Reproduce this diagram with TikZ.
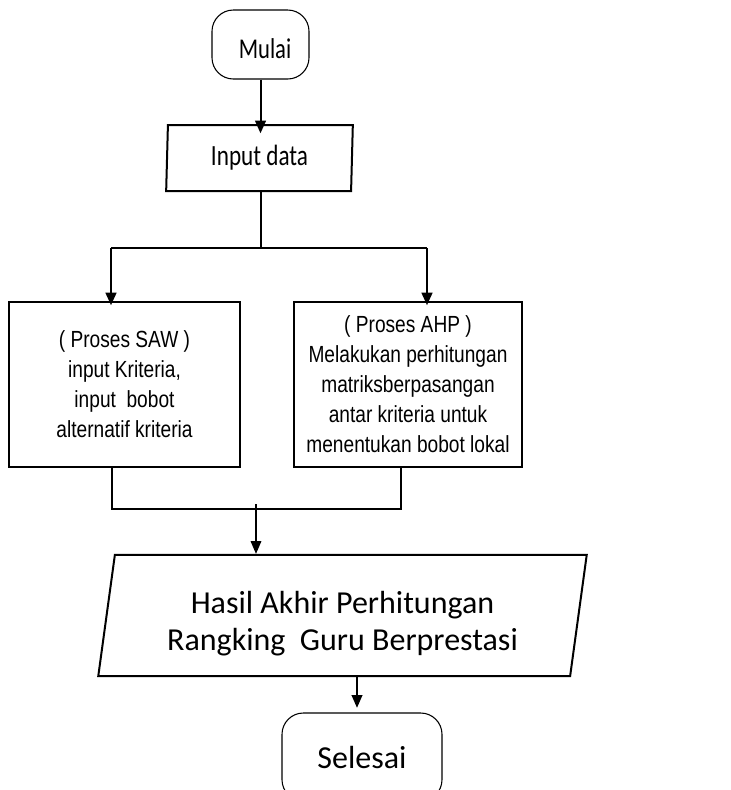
\documentclass[tikz,border=0pt]{standalone}
\usepackage{fontspec}
\setmainfont{Carlito}
\newfontfamily\narrowfont[FakeStretch=0.82]{Liberation Sans}
\newfontfamily\condfont[FakeStretch=0.79]{Carlito}
\usetikzlibrary{shapes.geometric, arrows.meta}

\begin{document}
\begin{tikzpicture}[x=0.75pt, y=-0.75pt, font=\fontsize{24}{27.75}\selectfont]

\tikzstyle{startstop} = [rectangle, rounded corners=16pt, minimum width=72.75pt, minimum height=51.75pt, text centered, draw=black, line width=0.8pt]
\tikzstyle{io} = [trapezium, trapezium left angle=86, trapezium right angle=94, trapezium stretches body, minimum width=140pt, minimum height=49.5pt, align=center, draw=black, line width=1.5pt, inner sep=0pt]
\tikzstyle{process} = [rectangle, minimum width=173pt, minimum height=124pt, align=center, draw=black, line width=1.8pt, font=\narrowfont\fontsize{17.5}{22.5}\selectfont]
\tikzstyle{arrow} = [line width=1.5pt, -{Triangle[length=9.5pt, width=8pt]}]
\tikzstyle{line} = [line width=1.2pt]

\useasboundingbox (0,0) rectangle (731,790);

\node (mulai) [startstop, font=\condfont\fontsize{21.5}{27}\selectfont] at (260.5,44.5) {\hspace*{6.75pt}\raisebox{-3pt}[\height][\depth]{Mulai}};
\node (input) [io, font=\condfont\fontsize{22}{27}\selectfont] at (259.5,158) {Input data};
\node (saw) [process] at (124.5,384.5) {( Proses SAW )\\input Kriteria,\\input\ \ bobot\\alternatif kriteria};
\node (ahp) [process, minimum width=171pt] at (408,384.5) {( Proses AHP )\\Melakukan perhitungan\\matriksberpasangan\\antar kriteria untuk\\menentukan bobot lokal};
\node (hasil) [io, trapezium left angle=75.6, trapezium right angle=104.4, minimum width=365pt, minimum height=91pt] at (342.5,615.5) {\raisebox{-6pt}[\height][\depth]{\parbox{12cm}{\centering Hasil Akhir Perhitungan\\Rangking\ \ Guru Berprestasi}}};
\node (selesai) [startstop, minimum width=120pt, minimum height=66pt] at (362,757) {Selesai};

\coordinate (fork) at (261,248);
\coordinate (forkL) at (111,248);
\coordinate (forkR) at (427,248);
\coordinate (joinL) at (112,509);
\coordinate (joinR) at (401,509);
\coordinate (join) at (256,504);
\coordinate (out) at (357,690);

\draw [arrow] (mulai) -- ([yshift=-7pt]mulai |- input.north);
\draw [line, line width=0.8pt] (input.south -| fork) -- (fork);
\draw [line] (forkL) -- (forkR);
\draw [arrow, line width=1.8pt] (forkL) -- ([yshift=-3.5pt]forkL |- saw.north);
\draw [arrow, line width=1.8pt] (forkR) -- ([yshift=-3.5pt]forkR |- ahp.north);
\draw [line] (saw.south -| joinL) -- (joinL) -- (joinR) -- (ahp.south -| joinR);
\draw [arrow, line width=0.8pt] (join) -- (join |- hasil.north);
\draw [arrow, line width=1.2pt] (hasil.south -| out) -- ([yshift=3.5pt]selesai.north -| out);
\end{tikzpicture}
\end{document}
